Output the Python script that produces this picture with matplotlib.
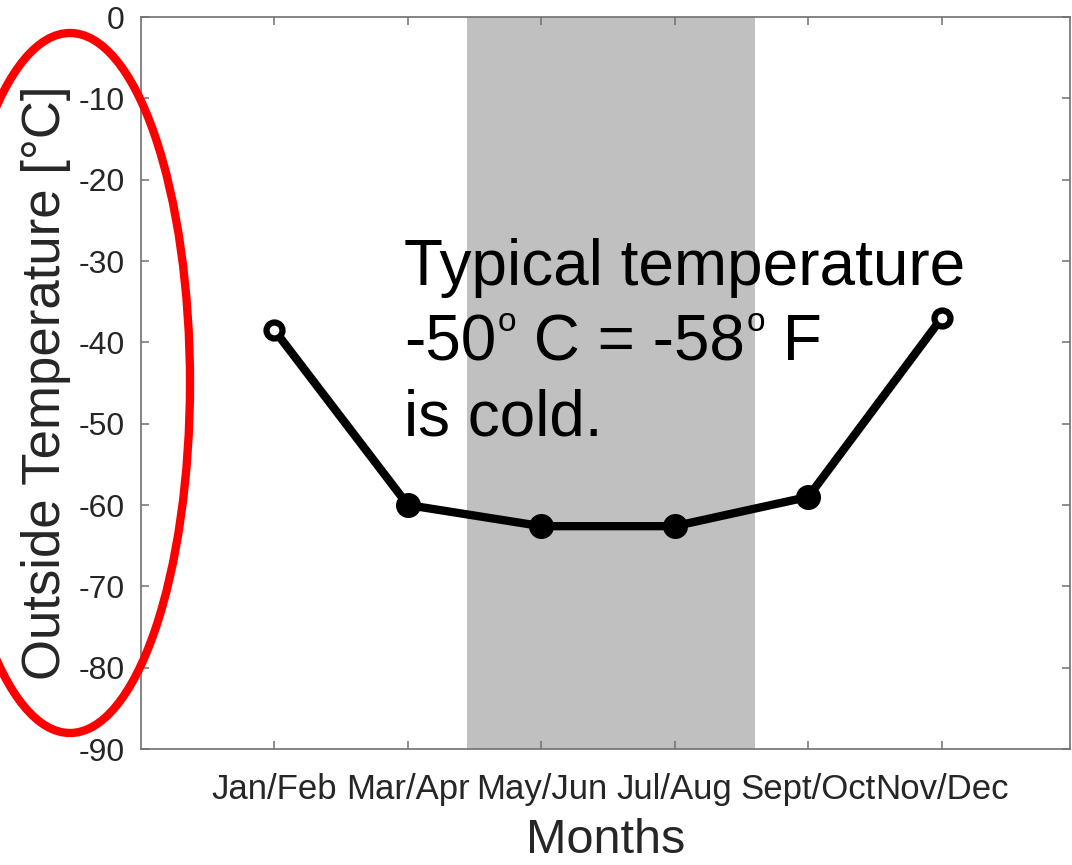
import matplotlib

matplotlib.use("Agg")
import matplotlib.pyplot as plt
from matplotlib.patches import Ellipse

plt.rcParams["font.family"] = ["Liberation Sans", "DejaVu Sans"]
plt.rcParams["axes.unicode_minus"] = False

# Bi-monthly outside temperature (deg C)
months = ["Jan/Feb", "Mar/Apr", "May/Jun", "Jul/Aug", "Sept/Oct", "Nov/Dec"]
temperature = [-38.5, -60.0, -62.6, -62.6, -59.0, -37.0]
open_points = [0, 5]
filled_points = [1, 2, 3, 4]
winter_span = [2.44, 4.6]
y_ticks = [0, -10, -20, -30, -40, -50, -60, -70, -80, -90]
# second note line is split so the degree "o" can be drawn raised and small
note_first = "Typical temperature"
note_middle = [("-50", False), ("o", True), (" C = -58", False), ("o", True), (" F", False)]
note_last = "is cold."

axis_color = "#707070"
text_color = "#262626"
note_size = 46
sup_size = 24

fig = plt.figure(figsize=(10.72, 8.65), dpi=100)
ax = fig.add_axes([0.1315, 0.1341, 0.8665, 0.8462])

x = list(range(1, len(months) + 1))

ax.axvspan(winter_span[0], winter_span[1], color="#c0c0c0", lw=0, zorder=0)
ax.plot(x, temperature, color="black", lw=6, zorder=2)
ax.plot(
    [x[i] for i in filled_points],
    [temperature[i] for i in filled_points],
    "o",
    color="black",
    ms=14.5,
    mew=3.5,
    zorder=3,
)
ax.plot(
    [x[i] for i in open_points],
    [temperature[i] for i in open_points],
    "o",
    mfc="white",
    mec="black",
    ms=11.5,
    mew=4.5,
    zorder=3,
)

# annotation text, one line at a time
anchor = (1.97, -32.95)
ax.annotate(note_first, xy=anchor, fontsize=note_size, va="baseline", ha="left", zorder=4)
ax.annotate(
    note_last,
    xy=anchor,
    xytext=(0, -108),
    textcoords="offset points",
    fontsize=note_size,
    va="baseline",
    ha="left",
    zorder=4,
)
prev = ax.annotate(
    note_middle[0][0],
    xy=anchor,
    xytext=(0, -54),
    textcoords="offset points",
    fontsize=note_size,
    va="baseline",
    ha="left",
    zorder=4,
)
line_ref = prev
for piece, raised in note_middle[1:]:
    if raised:
        # small "o" whose top sits at the cap height of the full-size text
        prev = ax.annotate(
            piece,
            xy=(1, 1),
            xycoords=(prev, line_ref),
            xytext=(1, 4.5),
            textcoords="offset points",
            fontsize=sup_size,
            va="top",
            ha="left",
            zorder=4,
        )
    else:
        prev = ax.annotate(
            piece,
            xy=(1, 0),
            xycoords=(prev, line_ref),
            fontsize=note_size,
            va="bottom",
            ha="left",
            zorder=4,
        )

ax.set_xlim(0, 6.96)
ax.set_ylim(-90, 0)
ax.set_xticks(x)
ax.set_xticklabels(months)
ax.set_yticks(y_ticks)
ax.set_yticklabels([str(t) for t in y_ticks])

ax.tick_params(
    axis="both",
    direction="in",
    length=6,
    width=1.1,
    color=axis_color,
    labelcolor=text_color,
    top=True,
    right=True,
)
ax.tick_params(axis="x", labelsize=25, pad=17)
ax.tick_params(axis="y", labelsize=23, pad=11.5)
for spine in ax.spines.values():
    spine.set_color(axis_color)
    spine.set_linewidth(1.2)

ax.set_xlabel("Months", fontsize=35, color=text_color, labelpad=9)
ax.set_ylabel("Outside Temperature [°C]", fontsize=38, color=text_color, va="center")
ax.yaxis.set_label_coords(-0.102, 0.5)

# red outline around the axis label
fig.add_artist(
    Ellipse(
        (70 / 1072, 1 - 383 / 865),
        240 / 1072,
        700 / 865,
        transform=fig.transFigure,
        fill=False,
        edgecolor="#ff0000",
        lw=6,
        clip_on=False,
    )
)

fig.savefig("out.png", dpi=100, facecolor="white")
plt.close(fig)
